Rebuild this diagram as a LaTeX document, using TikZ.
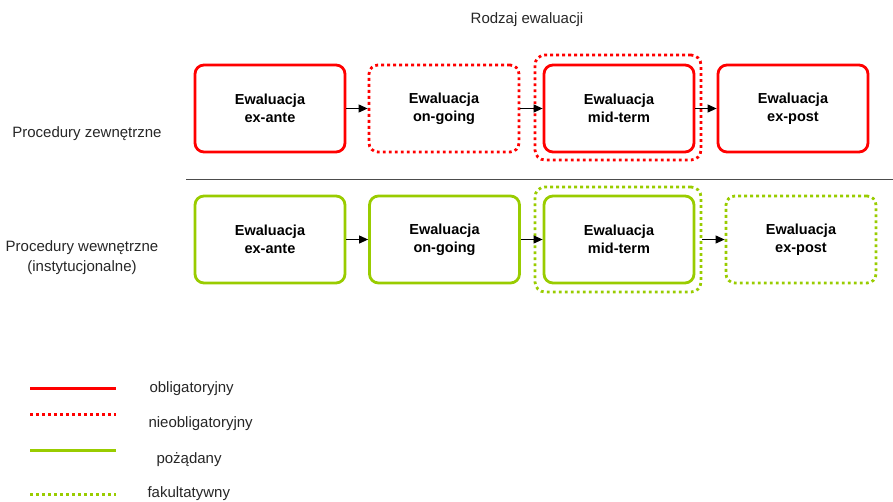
\documentclass[tikz,border=0pt]{standalone}
\usepackage{fontspec}
\setmainfont{Liberation Sans}
\usetikzlibrary{arrows.meta}
\definecolor{obl}{HTML}{FF0000}
\definecolor{poz}{HTML}{99CC00}
\tikzset{
  box/.style={rectangle, rounded corners=9pt, minimum width=150pt, minimum height=87pt,
    inner sep=0pt, align=center, font=\bfseries\fontsize{14.5}{18}\selectfont, line width=2.8pt},
  solidred/.style={draw=obl},
  dotred/.style={draw=obl, dash pattern=on 2.8pt off 3.2pt},
  solidgreen/.style={draw=poz},
  dotgreen/.style={draw=poz, dash pattern=on 2.8pt off 3.2pt},
  frame/.style={rectangle, rounded corners=10pt, minimum width=166pt, minimum height=105pt,
    inner sep=0pt, line width=2.8pt},
  flow/.style={-{Triangle[length=9pt,width=8pt]}, line width=1.1pt, black},
  lbl/.style={font=\fontsize{15}{20}\selectfont, text=black!85, align=center},
  legline/.style={line width=3pt}
}
\begin{document}
\begin{tikzpicture}[x=1pt,y=-1pt]
\useasboundingbox (0,0) rectangle (893,501);

\node[lbl] (title) at (527,20) {Rodzaj ewaluacji};
\node[lbl] (ext) at (87,134) {Procedury zewnętrzne};
\node[lbl] (int) at (82,258) {Procedury wewnętrzne\\(instytucjonalne)};

% external procedures
\node[frame, dotred] (r3f) at (618,107.5) {};
\node[box, solidred] (r1) at (270,108.5) {Ewaluacja\\ex-ante};
\node[box, dotred] (r2) at (444,108.5) {Ewaluacja\\on-going};
\node[box, solidred] (r3) at (619,108.5) {Ewaluacja\\mid-term};
\node[box, solidred] (r4) at (793,108.5) {Ewaluacja\\ex-post};
\draw[flow] (r1.east) -- (r2.west);
\draw[flow] (r2.east) -- (r3.west);
\draw[flow] (r3.east) -- (r4.west);

% separator
\coordinate (s0) at (186,179);
\coordinate (s1) at (893,179);
\draw[line width=1pt, black!70] (s0) -- (s1);

% internal procedures
\node[frame, dotgreen] (g3f) at (618,239.5) {};
\node[box, solidgreen] (g1) at (270,239.5) {Ewaluacja\\ex-ante};
\node[box, solidgreen] (g2) at (444.5,239.5) {Ewaluacja\\on-going};
\node[box, solidgreen] (g3) at (619,239.5) {Ewaluacja\\mid-term};
\node[box, dotgreen] (g4) at (801,239.5) {Ewaluacja\\ex-post};
\draw[flow] (g1.east) -- (g2.west);
\draw[flow] (g2.east) -- (g3.west);
\draw[flow] (g3f.east) -- (g4.west);

% legend
\draw[legline, obl] (30,388) -- (116,388);
\draw[legline, obl, dash pattern=on 2.8pt off 3.2pt] (30,414) -- (116,414);
\draw[legline, poz] (30,450) -- (116,450);
\draw[legline, poz, dash pattern=on 2.8pt off 3.2pt] (30,494) -- (116,494);
\node[lbl, anchor=west] (l1) at (146,389) {obligatoryjny};
\node[lbl, anchor=west] (l2) at (145,424) {nieobligatoryjny};
\node[lbl, anchor=west] (l3) at (153,460) {pożądany};
\node[lbl, anchor=west] (l4) at (144,494) {fakultatywny};
\end{tikzpicture}
\end{document}
